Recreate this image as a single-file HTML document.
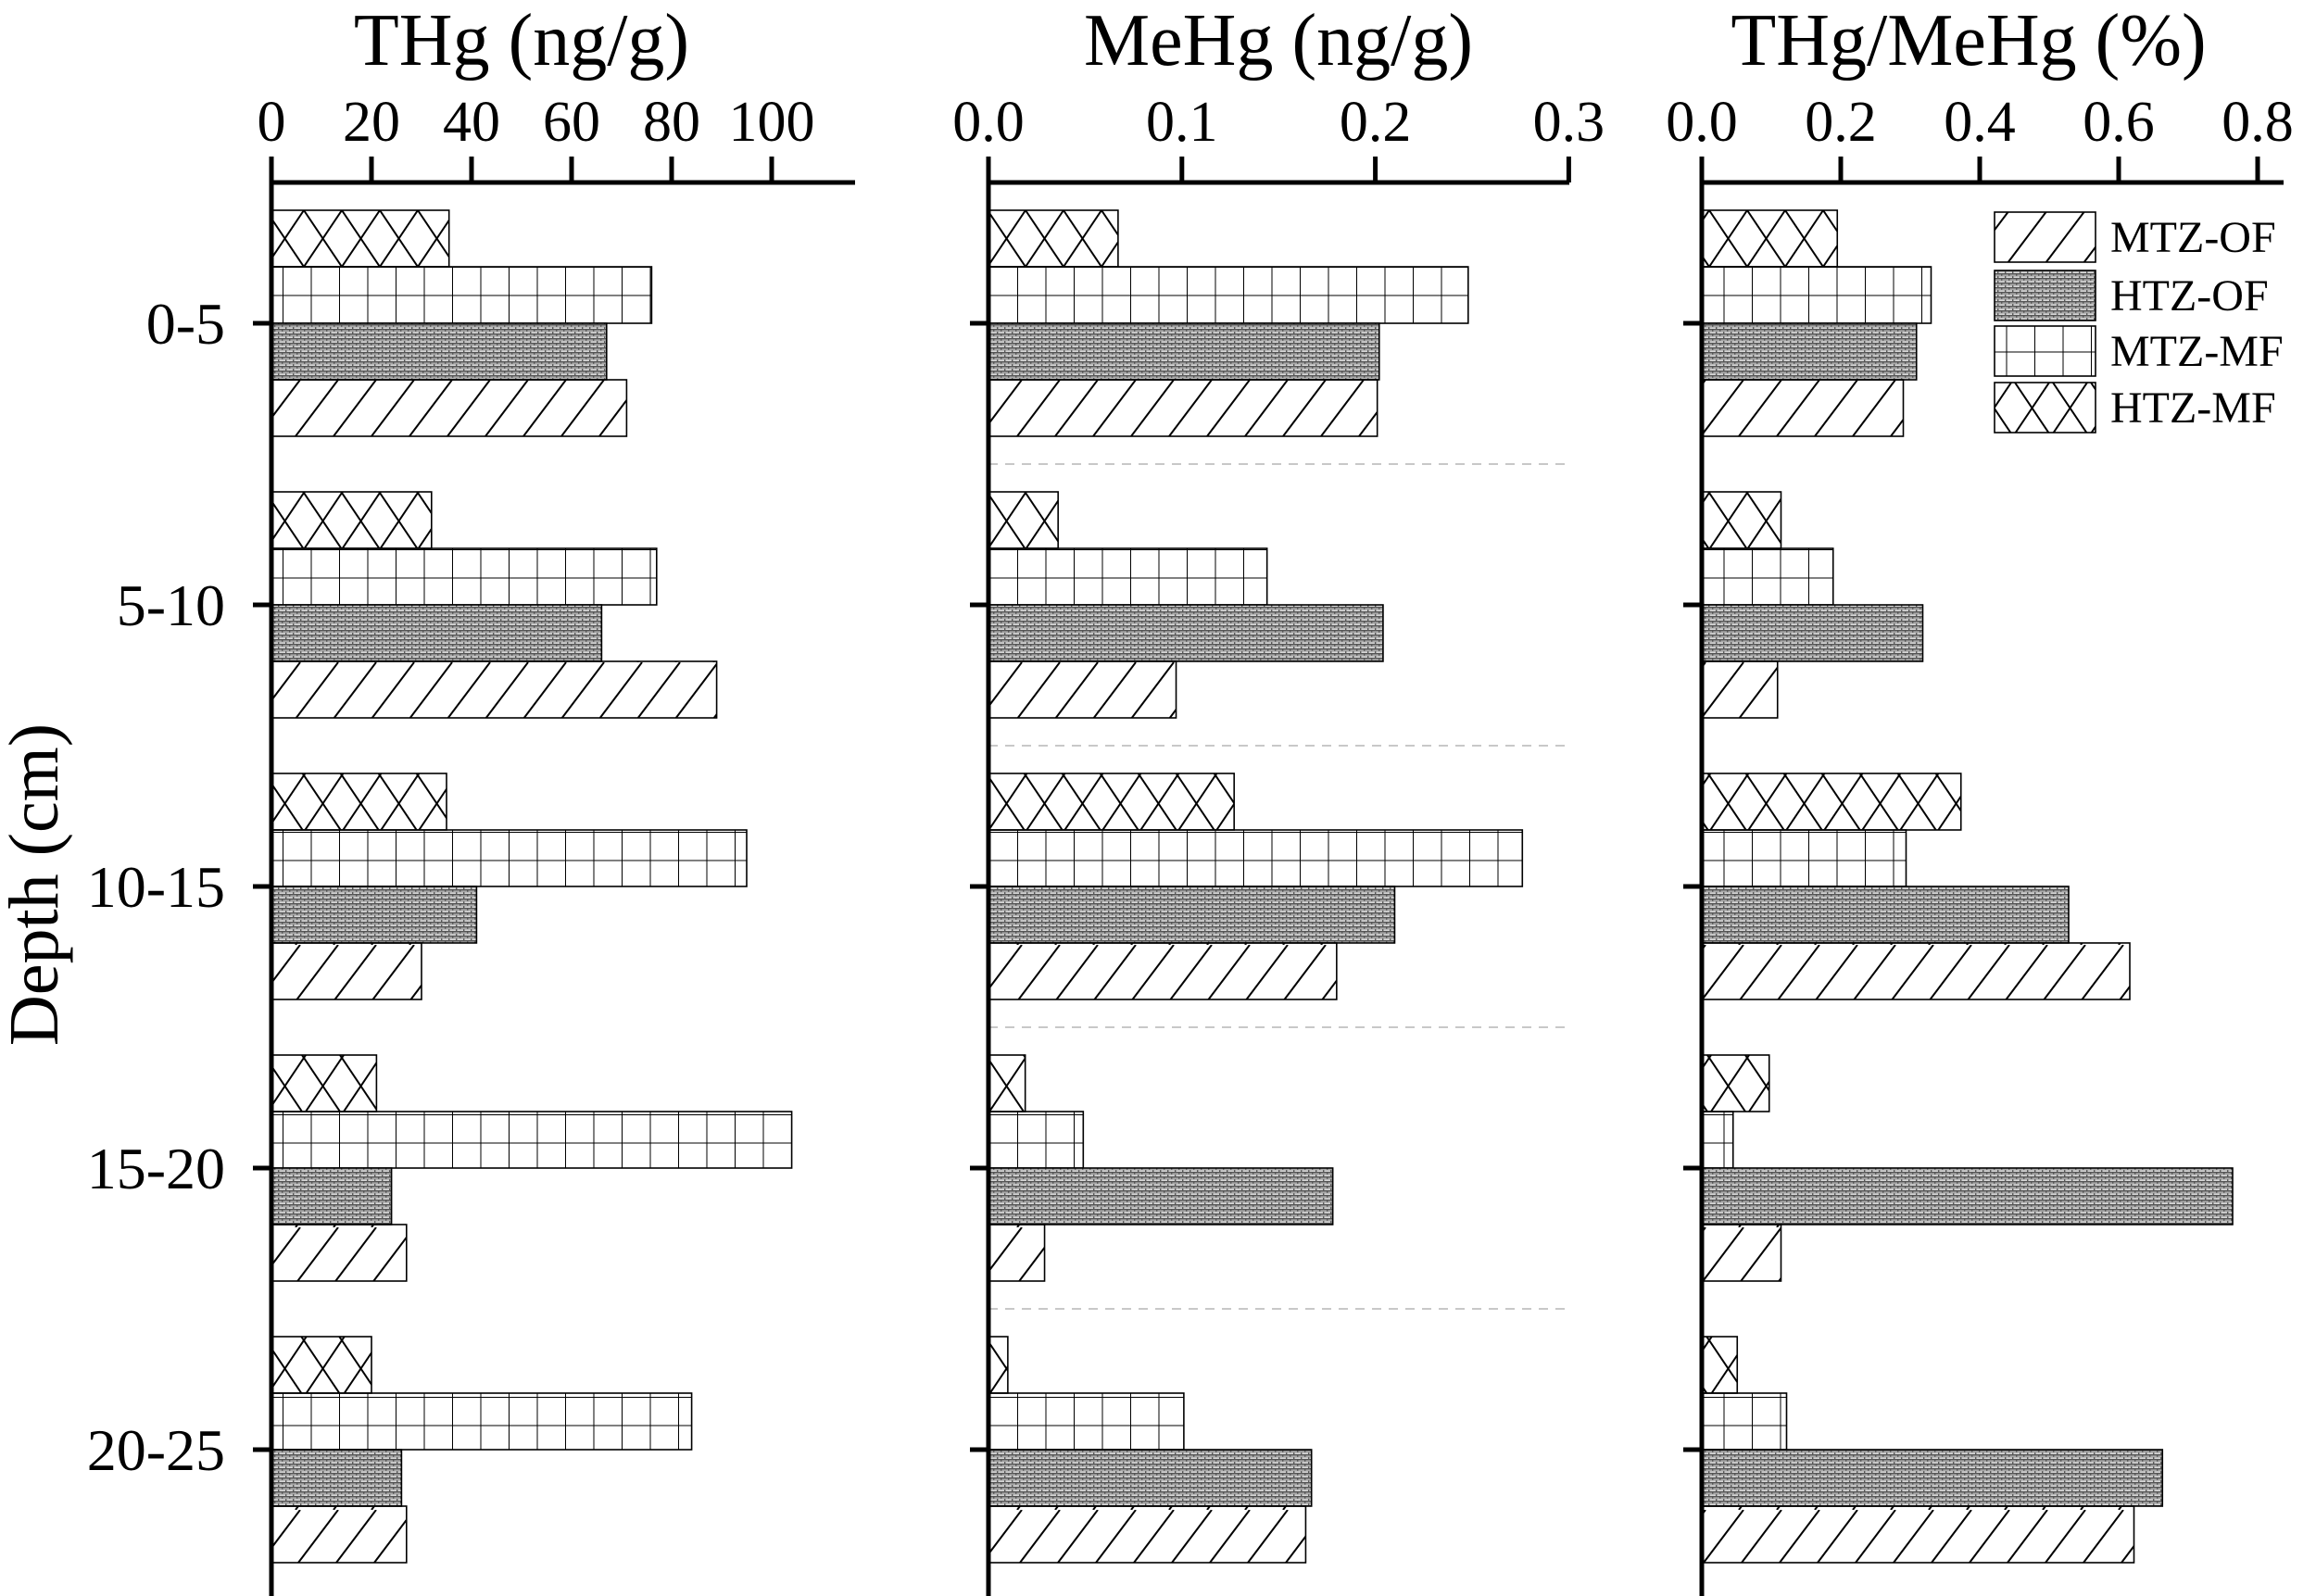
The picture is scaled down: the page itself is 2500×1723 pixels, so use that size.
<!DOCTYPE html>
<html><head><meta charset="utf-8"><style>
html,body{margin:0;padding:0;background:#fff}
svg{display:block}
text{font-family:"Liberation Serif",serif;fill:#000}
</style></head><body>
<svg id="chart" width="2500" height="1723" viewBox="0 0 2500 1723" xmlns="http://www.w3.org/2000/svg">
<defs>
<pattern id="p-mtzof" patternUnits="userSpaceOnUse" width="41" height="61" y="227">
<line x1="-9" y1="61" x2="37" y2="0" stroke="#000" stroke-width="2"/>
<line x1="32" y1="61" x2="78" y2="0" stroke="#000" stroke-width="2"/>
</pattern>
<pattern id="p-htzof" patternUnits="userSpaceOnUse" width="8" height="5">
<rect width="8" height="5" fill="#d8d8d8"/>
<rect y="0" width="8" height="1.6" fill="#555"/>
<rect x="0" y="0" width="1.4" height="2.5" fill="#555"/>
<rect x="4" y="2.5" width="1.4" height="2.5" fill="#555"/>
<rect y="2.5" width="8" height="0.8" fill="#777"/>
</pattern>
<pattern id="p-mtzmf" patternUnits="userSpaceOnUse" width="30.5" height="30.5" y="227">
<line x1="0" y1="0" x2="0" y2="30.5" stroke="#000" stroke-width="2"/>
<line x1="0" y1="0" x2="30.5" y2="0" stroke="#000" stroke-width="2"/>
</pattern>
<pattern id="p-htzmf" patternUnits="userSpaceOnUse" width="41" height="61" y="227">
<line x1="0" y1="0" x2="41" y2="61" stroke="#000" stroke-width="2"/>
<line x1="41" y1="0" x2="0" y2="61" stroke="#000" stroke-width="2"/>
</pattern>
</defs>
<g id="root"></g>
</svg>
<script>
const categories = ["0-5","5-10","10-15","15-20","20-25"];
const seriesNames = ["HTZ-MF","MTZ-MF","HTZ-OF","MTZ-OF"];
// THg (ng/g)
const thgHTZMF = [35.5,32,35,21,20];
const thgMTZMF = [76,77,95,104,84];
const thgHTZOF = [67,66,41,24,26];
const thgMTZOF = [71,89,30,27,27];
// MeHg (ng/g)
const mehgHTZMF = [0.067,0.036,0.127,0.019,0.010];
const mehgMTZMF = [0.248,0.144,0.276,0.049,0.101];
const mehgHTZOF = [0.202,0.204,0.210,0.178,0.167];
const mehgMTZOF = [0.201,0.097,0.180,0.029,0.164];
// THg/MeHg (%)
const ratioHTZMF = [0.195,0.114,0.373,0.097,0.051];
const ratioMTZMF = [0.330,0.189,0.294,0.045,0.122];
const ratioHTZOF = [0.309,0.318,0.528,0.764,0.663];
const ratioMTZOF = [0.290,0.109,0.616,0.114,0.622];
const ticks1 = [0,20,40,60,80,100];
const ticks2 = [0.0,0.1,0.2,0.3];
const ticks3 = [0.0,0.2,0.4,0.6,0.8];
const tickLabels2 = ["0.0","0.1","0.2","0.3"];
const tickLabels3 = ["0.0","0.2","0.4","0.6","0.8"];

const NS="http://www.w3.org/2000/svg";
const root=document.getElementById('root');
function el(tag,attrs,parent){const e=document.createElementNS(NS,tag);for(const k in attrs)e.setAttribute(k,attrs[k]);(parent||root).appendChild(e);return e;}
const fills={"HTZ-MF":"url(#p-htzmf)","MTZ-MF":"url(#p-mtzmf)","HTZ-OF":"url(#p-htzof)","MTZ-OF":"url(#p-mtzof)"};
const TOP=197, GROUP0=227, BARH=61, STEP=304;
function yCat(i){return GROUP0+i*STEP;}

function panel(key,title,x0,pxPerUnit,axisEnd,ticks,labels,series,dashed,titleX){
  const g=el('g',{});
  
  
  const xs=v=>x0+v*pxPerUnit;
  const t=el('text',{x:titleX,y:70,'font-size':80,'text-anchor':'middle'},g);
  t.textContent=title;
  
  
  if(dashed){
    for(let i=1;i<categories.length;i++){
      const y=yCat(i)-30;
      const d=el('line',{x1:x0,x2:axisEnd,y1:y,y2:y,stroke:'#c8c8c8','stroke-width':2,'stroke-dasharray':'10 8'},g);
      
      
    }
  }
  categories.forEach((c,i)=>{
    series.forEach((arr,j)=>{
      const y=yCat(i)+j*BARH;
      const r=el('rect',{x:x0,y:y,width:Math.max(0,xs(arr[i])-x0),height:BARH,fill:fills[seriesNames[j]],stroke:'#000','stroke-width':1.6},g);
      
      
    });
    const cy=yCat(i)+2*BARH;
    const tk=el('line',{x1:x0-20,x2:x0,y1:cy,y2:cy,stroke:'#000','stroke-width':5},g);
    
    
  });
  const ax=el('line',{x1:x0,x2:axisEnd,y1:TOP,y2:TOP,stroke:'#000','stroke-width':5},g);
  
  
  const ay=el('line',{x1:x0,x2:x0,y1:TOP-28,y2:1723,stroke:'#000','stroke-width':5},g);
  
  
  ticks.forEach((v,k)=>{
    const x=xs(v);
    const l=el('line',{x1:x,x2:x,y1:TOP-28,y2:TOP,stroke:'#000','stroke-width':5},g);
    
    
    const tl=el('text',{x:x,y:152,'font-size':62,'text-anchor':'middle'},g);
    tl.textContent=labels[k];
    
    
  });
}
panel('thg','THg (ng/g)',293,5.4,923,ticks1,ticks1.map(String),[thgHTZMF,thgMTZMF,thgHTZOF,thgMTZOF],false,563);
panel('mehg','MeHg (ng/g)',1067,2088,1694,ticks2,tickLabels2,[mehgHTZMF,mehgMTZMF,mehgHTZOF,mehgMTZOF],true,1380);
panel('ratio','THg/MeHg (%)',1837,750,2465,ticks3,tickLabels3,[ratioHTZMF,ratioMTZMF,ratioHTZOF,ratioMTZOF],false,2125);

categories.forEach((c,i)=>{
  const t=el('text',{x:243,y:yCat(i)+2*BARH+22,'font-size':64,'text-anchor':'end'});
  t.textContent=c;
  
  
});
const yt=el('text',{x:0,y:0,'font-size':76,'text-anchor':'middle',transform:'translate(62,955) rotate(-90)'});
yt.textContent='Depth (cm)';



const legendOrder=["MTZ-OF","HTZ-OF","MTZ-MF","HTZ-MF"];
const legendYs=[229,292,352,413];
legendOrder.forEach((n,i)=>{
  const g=el('g',{});
  
  
  el('rect',{x:2153,y:legendYs[i],width:109,height:54,fill:fills[n],stroke:'#000','stroke-width':1.6},g);
  const t=el('text',{x:2278,y:legendYs[i]+43,'font-size':48},g);
  t.textContent=n;
});
</script>
</body></html>
